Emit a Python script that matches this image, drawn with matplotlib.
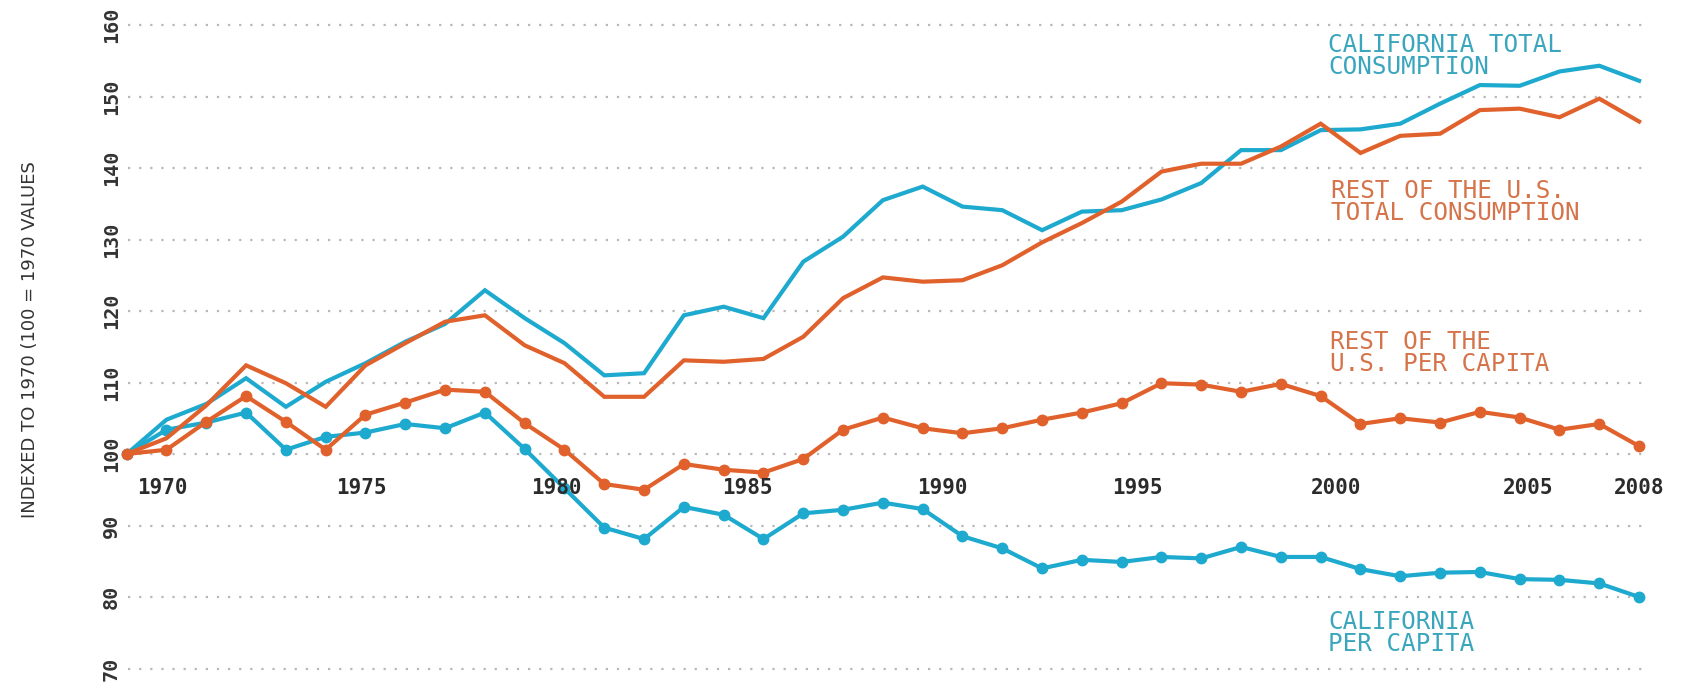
import matplotlib
matplotlib.use("Agg")
import matplotlib.pyplot as plt
import numpy as np

# ---- data (index, 1970 = 100) ----
years = np.arange(1970, 2009)

ca_total = [100, 104.8, 107.0, 110.6, 106.6, 110.1, 112.7, 115.7, 118.2, 122.9,
            119.0, 115.5, 111.0, 111.3, 119.4, 120.6, 119.0, 126.9, 130.4, 135.5,
            137.4, 134.6, 134.1, 131.3, 133.9, 134.1, 135.6, 137.9, 142.5, 142.5,
            145.3, 145.4, 146.2, 149.0, 151.6, 151.5, 153.5, 154.3, 152.2]

rus_total = [100, 102.2, 106.8, 112.4, 109.9, 106.6, 112.4, 115.5, 118.5, 119.4,
             115.2, 112.7, 108.0, 108.0, 113.1, 112.9, 113.3, 116.4, 121.8, 124.7,
             124.1, 124.3, 126.4, 129.6, 132.3, 135.3, 139.5, 140.6, 140.6, 143.0,
             146.2, 142.1, 144.5, 144.8, 148.1, 148.3, 147.1, 149.7, 146.5]

rus_percap = [100, 100.6, 104.5, 108.1, 104.5, 100.6, 105.5, 107.2, 109.0, 108.7,
              104.3, 100.6, 95.8, 95.0, 98.6, 97.8, 97.4, 99.3, 103.4, 105.1,
              103.6, 102.9, 103.6, 104.8, 105.8, 107.1, 109.9, 109.7, 108.7, 109.8,
              108.1, 104.2, 105.0, 104.4, 105.9, 105.1, 103.4, 104.2, 101.1]

ca_percap = [100, 103.4, 104.4, 105.8, 100.6, 102.4, 103.0, 104.2, 103.6, 105.8,
             100.7, 95.2, 89.7, 88.1, 92.6, 91.5, 88.1, 91.7, 92.2, 93.2,
             92.3, 88.5, 86.8, 84.0, 85.2, 84.9, 85.6, 85.4, 87.0, 85.6,
             85.6, 83.9, 82.9, 83.4, 83.5, 82.5, 82.4, 81.9, 80.0]

year_labels = ["1970", "1975", "1980", "1985", "1990", "1995", "2000", "2005", "2008"]
# the original places its year labels slightly off the data points
year_label_pos = [1970.9, 1975.9, 1980.8, 1985.6, 1990.5, 1995.4, 2000.4, 2005.2, 2008.0]
yticks = list(range(70, 161, 10))

series_labels = {
    "ca_total": "CALIFORNIA TOTAL\nCONSUMPTION",
    "rus_total": "REST OF THE U.S.\nTOTAL CONSUMPTION",
    "rus_percap": "REST OF THE\nU.S. PER CAPITA",
    "ca_percap": "CALIFORNIA\nPER CAPITA",
}

# ---- style ----
BLUE = "#1ea9cf"
ORANGE = "#e0612b"
BLUE_TXT = "#3aa6bd"
ORANGE_TXT = "#d5744a"
MONO = "DejaVu Sans Mono"

W, H = 1686, 687
fig = plt.figure(figsize=(W / 100, H / 100), dpi=100)
L, R, T, B = 128, 1643, 10, 680
ax = fig.add_axes([L / W, 1 - B / H, (R - L) / W, (B - T) / H])

# pixel mapping
def px_to_year(px):
    return 1970 + (px - 126.7) / 39.8

def px_to_val(py):
    return 100 + (454 - py) / 7.15

ax.set_xlim(px_to_year(L), px_to_year(R))
ax.set_ylim(px_to_val(B), px_to_val(T))

for s in ax.spines.values():
    s.set_visible(False)
ax.set_xticks([])
ax.set_yticks(yticks)
ax.set_yticklabels([str(t) for t in yticks], rotation=90, va="center",
                   family=MONO, fontsize=14.5, color="#333333", fontweight="bold")
ax.tick_params(axis="y", length=0, pad=5)
ax.yaxis.grid(True, color="#b8b8b8", linestyle=(0, (1, 4)), linewidth=1.6)
ax.set_axisbelow(True)

ax.plot(years, ca_total, color=BLUE, lw=3, clip_on=False, solid_joinstyle="miter")
ax.plot(years, ca_percap, color=BLUE, lw=3, marker="o", ms=7.5, clip_on=False)
ax.plot(years, rus_total, color=ORANGE, lw=3, clip_on=False, solid_joinstyle="miter")
ax.plot(years, rus_percap, color=ORANGE, lw=3, marker="o", ms=7.5, clip_on=False)

for lab, pos in zip(year_labels, year_label_pos):
    ax.text(pos, 95.2, lab, ha="center", va="center", family=MONO,
            fontsize=15, fontweight="bold", color="#2b2b2b")

lab_kw = dict(family=MONO, fontsize=17.5, ha="left", va="top", linespacing=0.9)
ax.text(px_to_year(1328), px_to_val(33), series_labels["ca_total"], color=BLUE_TXT, **lab_kw)
ax.text(px_to_year(1331), px_to_val(179), series_labels["rus_total"], color=ORANGE_TXT, **lab_kw)
ax.text(px_to_year(1330), px_to_val(330), series_labels["rus_percap"], color=ORANGE_TXT, **lab_kw)
ax.text(px_to_year(1328), px_to_val(610), series_labels["ca_percap"], color=BLUE_TXT, **lab_kw)

fig.text(30 / W, 1 - 340 / H, "INDEXED TO 1970 (100 = 1970 VALUES", rotation=90,
         ha="center", va="center", fontsize=13, color="#333333")

fig.savefig("out.png", dpi=100)
